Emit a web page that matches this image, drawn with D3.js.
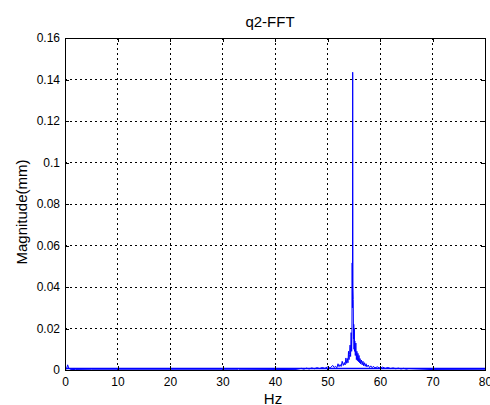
<!DOCTYPE html>
<html><head><meta charset="utf-8">
<script src="https://cdn.jsdelivr.net/npm/d3@7"></script>
<style>body{margin:0;background:#fff;}svg{display:block;font-family:"Liberation Sans",Arial,sans-serif;}</style>
</head><body>
<script>
const title = "q2-FFT";
const xLabel = "Hz";
const yLabel = "Magnitude(mm)";
const xTicks = [0,10,20,30,40,50,60,70,80];
const yTicks = [0,0.02,0.04,0.06,0.08,0.1,0.12,0.14,0.16];
const freq = [0,0.3,0.5,0.7,1.0,2,5,10,20,32.8,33,33.2,40,44,45,45.5,46,46.5,47,47.5,48,48.5,49,49.5,50,50.5,51,51.3,51.5,51.8,52,52.2,52.4,52.6,52.8,53.0,53.2,53.35,53.5,53.65,53.8,53.9,54.0,54.1,54.2,54.3,54.4,54.5,54.6,54.65,54.7,54.75,54.8,54.85,54.9,54.95,55.0,55.05,55.1,55.15,55.2,55.3,55.4,55.5,55.6,55.7,55.8,55.9,56.0,56.1,56.2,56.3,56.45,56.6,56.75,56.9,57.05,57.2,57.35,57.5,57.75,58,58.25,58.5,58.75,59,59.5,60,60.5,61,61.5,62,62.5,63,63.5,64,64.5,65,65.5,70,80];
const mag = [0,0.0005,0.0025,0.001,0.0003,0.0002,0.0001,0.0001,0.0001,0.0001,0.0008,0.0001,0.0002,0.0003,0.0008,0.0004,0.0009,0.0005,0.001,0.0006,0.0011,0.0007,0.0012,0.0008,0.0015,0.001,0.0022,0.0012,0.0018,0.0011,0.003,0.0016,0.0026,0.0017,0.0042,0.0022,0.0036,0.0024,0.0058,0.0032,0.0055,0.0035,0.009,0.005,0.0075,0.012,0.0065,0.018,0.009,0.016,0.0516,0.03,0.1435,0.04,0.034,0.015,0.022,0.01,0.02,0.009,0.014,0.007,0.013,0.005,0.009,0.0045,0.008,0.004,0.007,0.0035,0.0055,0.003,0.0048,0.0025,0.0042,0.002,0.0035,0.0018,0.003,0.0015,0.0024,0.0012,0.002,0.0011,0.0018,0.001,0.0015,0.0009,0.0014,0.0008,0.0012,0.0007,0.001,0.0006,0.0009,0.0005,0.0008,0.0004,0.0007,0.0002,0.0001,0.0001];

const W=490,H=405;
const m={l:65,r:5,t:38,b:35};
const svg=d3.select("body").append("svg").attr("width",W).attr("height",H);
const x=d3.scaleLinear().domain([0,80]).range([m.l,W-m.r]);
const y=d3.scaleLinear().domain([0,0.16]).range([H-m.b,m.t]);
const x0=x(0),x1=x(80),y0=y(0),y1=y(0.16);

// grid
const g=svg.append("g");
xTicks.slice(1,-1).forEach(t=>g.append("line").attr("x1",x(t)).attr("x2",x(t)).attr("y1",y0).attr("y2",y1)
  .attr("stroke","#000").attr("stroke-width",1).attr("stroke-dasharray","2,3").attr("shape-rendering","crispEdges"));
yTicks.slice(1,-1).forEach(t=>g.append("line").attr("x1",x0).attr("x2",x1).attr("y1",y(t)).attr("y2",y(t))
  .attr("stroke","#000").attr("stroke-width",1).attr("stroke-dasharray","2,3").attr("shape-rendering","crispEdges"));

// data line
const pts=freq.map((f,i)=>[f,mag[i]]);
svg.append("path").datum(pts).attr("fill","none").attr("stroke","#0000ff").attr("stroke-width",1)
  .attr("d",d3.line().x(d=>x(d[0])).y(d=>y(d[1])));
svg.append("line").attr("x1",x0).attr("x2",x1).attr("y1",y0-1.5).attr("y2",y0-1.5).attr("stroke","#0000ff").attr("stroke-width",1.5);

// axes
const xb=svg.append("g").attr("transform",`translate(0,${y0})`).call(d3.axisBottom(x).tickValues(xTicks).tickSize(-4).tickPadding(7).tickFormat(d3.format("d")));
const xt=svg.append("g").attr("transform",`translate(0,${y1})`).call(d3.axisTop(x).tickValues(xTicks).tickSize(-4).tickFormat(""));
const yl=svg.append("g").attr("transform",`translate(${x0},0)`).call(d3.axisLeft(y).tickValues(yTicks).tickSize(-4).tickPadding(5).tickFormat(d=>d===0?"0":String(+d.toFixed(2))));
const yr=svg.append("g").attr("transform",`translate(${x1},0)`).call(d3.axisRight(y).tickValues(yTicks).tickSize(-4).tickFormat(""));
[xb,xt,yl,yr].forEach(a=>{a.selectAll("path").attr("stroke","#000").attr("shape-rendering","crispEdges");
  a.selectAll("line").attr("stroke","#000").attr("shape-rendering","crispEdges");
  a.selectAll("text").attr("font-family","Liberation Sans, Arial, sans-serif").attr("font-size",12).attr("fill","#000");});

svg.append("text").attr("x",270).attr("y",27).attr("text-anchor","middle").attr("font-size",15).text(title);
svg.append("text").attr("x",273).attr("y",404).attr("text-anchor","middle").attr("font-size",15).text(xLabel);
svg.append("text").attr("transform","translate(27,212) rotate(-90)").attr("text-anchor","middle").attr("font-size",15).text(yLabel);
</script>
</body></html>
